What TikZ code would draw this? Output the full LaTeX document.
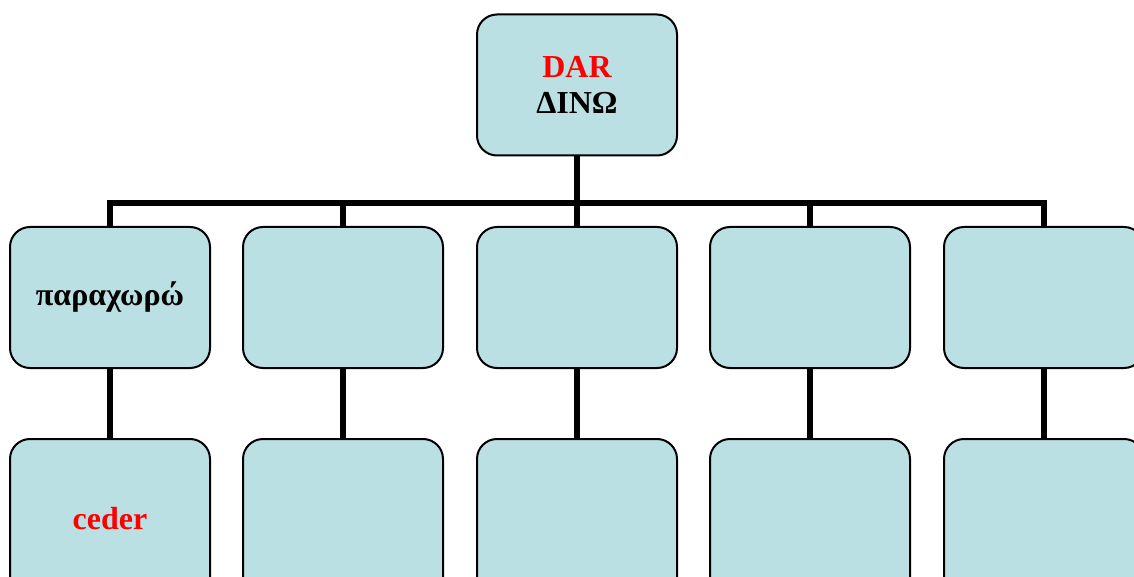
\documentclass[tikz,border=0pt]{standalone}
\usepackage{fontspec}
\setmainfont{Liberation Serif}
\definecolor{boxfill}{HTML}{BBE0E3}
\definecolor{txtred}{HTML}{FF0000}
\begin{document}
\begin{tikzpicture}[x=0.5pt,y=-0.5pt,
  orgbox/.style={draw=black, line width=1pt, fill=boxfill, rounded corners=10pt,
     minimum width=100pt, minimum height=70.5pt, inner sep=0pt, align=center,
     font=\fontsize{16pt}{18pt}\selectfont\bfseries},
  lowbox/.style={orgbox, minimum height=80pt},
  lbl/.style={font=\fontsize{16pt}{18pt}\selectfont\bfseries},
  conn/.style={line width=3pt, draw=black}]
\useasboundingbox (0,0) rectangle (1134,577);
\node[orgbox] (top) at (577,85) {\textcolor{txtred}{DAR}\\ΔΙΝΩ};
\coordinate (bar) at (0,203);
\foreach \i/\x in {1/110,2/343,3/577,4/810,5/1044}{
  \node[orgbox] (m\i) at (\x,297.5) {};
  \node[lowbox] (b\i) at (\x,519) {};
}
\node[lbl] (t1) at (m1) {παραχωρώ};
\node[lbl, text=txtred] (t2) at (b1) {ceder};
\foreach \i in {1,...,5}{
  \draw[conn] (top.south) -- (top.south |- bar) -| (m\i.north);
  \draw[conn] (m\i.south) -- (b\i.north);
}
\end{tikzpicture}
\end{document}
